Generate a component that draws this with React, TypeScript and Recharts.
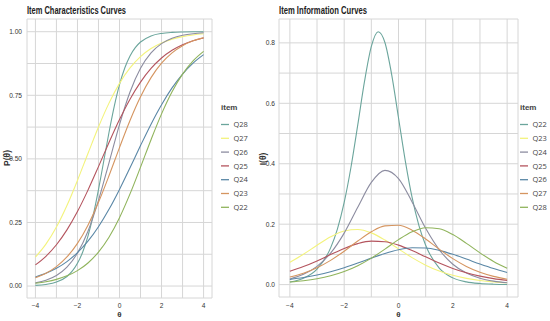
import React from 'react';
import { LineChart, Line, XAxis, YAxis, CartesianGrid, Legend } from 'recharts';

// theta grids
const theta = [-4, -3.5, -3, -2.5, -2, -1.5, -1, -0.5, 0, 0.5, 1, 1.5, 2, 2.5, 3, 3.5, 4];
const thetaFine = [-4, -3.5, -3, -2.5, -2.25, -2, -1.75, -1.5, -1.25, -1, -0.75, -0.5, -0.25, 0, 0.25, 0.5, 0.75, 1, 1.5, 2, 2.5, 3, 3.5, 4];

// Item characteristic curves (left panel)
const iccQ28 = [0.0025, 0.0063, 0.0155, 0.0377, 0.0583, 0.0892, 0.1339, 0.1964, 0.2786, 0.379, 0.4909, 0.6037, 0.7065, 0.7918, 0.8573, 0.9047, 0.9375, 0.9595, 0.9834, 0.9933, 0.9973, 0.9989, 0.9996, 0.9998];
const iccQ27 = [0.1138, 0.1646, 0.232, 0.3166, 0.4153, 0.5214, 0.6255, 0.7192, 0.797, 0.8576, 0.9023, 0.934, 0.956, 0.9708, 0.9808, 0.9874, 0.9917];
const iccQ26 = [0.0125, 0.023, 0.0416, 0.0744, 0.1294, 0.2156, 0.3371, 0.4846, 0.635, 0.7629, 0.8561, 0.9167, 0.9532, 0.9741, 0.9858, 0.9923, 0.9958];
const iccQ25 = [0.0831, 0.117, 0.1623, 0.2207, 0.2928, 0.3772, 0.4696, 0.5642, 0.6544, 0.7347, 0.8019, 0.8555, 0.8965, 0.9268, 0.9487, 0.9644, 0.9754];
const iccQ24 = [0.0359, 0.0502, 0.0698, 0.0962, 0.1313, 0.1765, 0.2333, 0.3016, 0.3799, 0.4651, 0.5523, 0.6365, 0.713, 0.779, 0.8334, 0.8765, 0.9097];
const iccQ23 = [0.0329, 0.0504, 0.0764, 0.1144, 0.1677, 0.2392, 0.3292, 0.4336, 0.5444, 0.6509, 0.7442, 0.8195, 0.8763, 0.9171, 0.9452, 0.9642, 0.9768];
const iccQ22 = [0.0112, 0.0172, 0.0263, 0.0401, 0.0606, 0.0907, 0.1335, 0.1922, 0.2688, 0.3623, 0.4674, 0.5755, 0.6769, 0.7639, 0.8333, 0.8854, 0.9227];

// Item information curves (right panel)
const infoQ22 = [0.0084, 0.021, 0.0511, 0.1215, 0.1839, 0.2721, 0.3884, 0.5285, 0.6732, 0.7882, 0.837, 0.8012, 0.6944, 0.5521, 0.4097, 0.2887, 0.1962, 0.1301, 0.0547, 0.0223, 0.009, 0.0036, 0.0014, 0.0006];
const infoQ23 = [0.0737, 0.1005, 0.1302, 0.1582, 0.1775, 0.1824, 0.1712, 0.1476, 0.1183, 0.0893, 0.0644, 0.0451, 0.0307, 0.0207, 0.0138, 0.0091, 0.006];
const infoQ24 = [0.0187, 0.0339, 0.0604, 0.1041, 0.1704, 0.2559, 0.3381, 0.3779, 0.3507, 0.2737, 0.1864, 0.1155, 0.0675, 0.0381, 0.0211, 0.0116, 0.0063];
const infoQ25 = [0.044, 0.0597, 0.0785, 0.0993, 0.1196, 0.1357, 0.1439, 0.142, 0.1306, 0.1126, 0.0918, 0.0714, 0.0536, 0.0392, 0.0281, 0.0198, 0.0139];
const infoQ26 = [0.017, 0.0234, 0.0318, 0.0426, 0.0559, 0.0712, 0.0876, 0.1032, 0.1154, 0.1219, 0.1212, 0.1134, 0.1003, 0.0844, 0.068, 0.053, 0.0403];
const infoQ27 = [0.0252, 0.0379, 0.0559, 0.0803, 0.1106, 0.1441, 0.1749, 0.1945, 0.1965, 0.18, 0.1508, 0.1172, 0.0859, 0.0602, 0.041, 0.0273, 0.018];
const infoQ28 = [0.0084, 0.0128, 0.0194, 0.0291, 0.0431, 0.0624, 0.0876, 0.1175, 0.1488, 0.1749, 0.1884, 0.1849, 0.1655, 0.1365, 0.1051, 0.0768, 0.054];

const colors = ['#6ba59c', '#f3f37c', '#8c8ca0', '#b4545e', '#5a87a6', '#d59560', '#90b45c'];
const leftNames = ['Q28', 'Q27', 'Q26', 'Q25', 'Q24', 'Q23', 'Q22'];
const rightNames = ['Q22', 'Q23', 'Q24', 'Q25', 'Q26', 'Q27', 'Q28'];
const leftValues = [iccQ28, iccQ27, iccQ26, iccQ25, iccQ24, iccQ23, iccQ22];
const rightValues = [infoQ22, infoQ23, infoQ24, infoQ25, infoQ26, infoQ27, infoQ28];

const xTicks = [-4, -3, -2, -1, 0, 1, 2, 3, 4];
const leftYTicks = [0, 0.125, 0.25, 0.375, 0.5, 0.625, 0.75, 0.875, 1];
const rightYTicks = [0, 0.1, 0.2, 0.3, 0.4, 0.5, 0.6, 0.7, 0.8];

const toPoints = (xs: number[], ys: number[]) => ys.map((v, i) => ({ theta: xs[i], value: v }));
const thetaFor = (ys: number[]) => (ys.length === thetaFine.length ? thetaFine : theta);

const narrow = "'Liberation Sans Narrow', 'Liberation Sans', Arial, sans-serif";
const tickStyle = { fontSize: 6.6, fill: '#333', fontFamily: narrow };

const fmtX = (v: number) => (v % 2 === 0 ? (v < 0 ? '\u2212' + Math.abs(v) : String(v)) : '');
const fmtLeftY = (v: number) => (Math.round(v * 1000) % 250 === 0 ? v.toFixed(2) : '');
const fmtRightY = (v: number) => (Math.round(v * 10) % 2 === 0 ? v.toFixed(1) : '');

const makeLegend = (names: string[]) => () => (
  <svg width={40} height={115} style={{ overflow: 'visible', display: 'block' }}>
    <text x={1} y={10} fontSize={8} fontWeight="bold" fill="#444" fontFamily={narrow}>item</text>
    {names.map((n, i) => (
      <g key={n}>
        <line x1={1} x2={9} y1={24.5 + i * 13.8} y2={24.5 + i * 13.8} stroke={colors[i]} strokeWidth={1.3} />
        <text x={13.5} y={24.5 + i * 13.8} dy="0.35em" fontSize={7.5} fill="#444" fontFamily="'Open Sans', 'Noto Sans', sans-serif">{n}</text>
      </g>
    ))}
  </svg>
);

export default function App() {
  return (
    <div style={{ position: 'absolute', left: 0, top: 0, width: 550, height: 321, background: '#fff', overflow: 'hidden' }}>
      <div style={{ position: 'absolute', left: 0, top: 0 }}>
        <LineChart width={270} height={321} margin={{ top: 19, right: 3, bottom: 0, left: 0 }}>
          <CartesianGrid stroke="#d6d6d6" strokeWidth={1} />
          <XAxis dataKey="theta" type="number" domain={[-4.4, 4.4]} ticks={xTicks} tickFormatter={fmtX}
            axisLine={false} tickLine={false} tickSize={0} tickMargin={5} height={23} tick={tickStyle} interval={0} allowDataOverflow />
          <YAxis type="number" domain={[-0.047, 1.05]} ticks={leftYTicks} tickFormatter={fmtLeftY}
            axisLine={false} tickLine={false} tickSize={0} tickMargin={5} width={27} tick={tickStyle} interval={0} allowDataOverflow />
          <Legend layout="vertical" align="right" verticalAlign="top" width={55}
            wrapperStyle={{ left: 220, top: 100, width: 55 }} content={makeLegend(leftNames)} />
          {leftValues.map((ys, i) => (
            <Line key={leftNames[i]} name={leftNames[i]} data={toPoints(thetaFor(ys), ys)} dataKey="value"
              type="monotone" stroke={colors[i]} strokeWidth={1.1} dot={false} activeDot={false} isAnimationActive={false} />
          ))}
        </LineChart>
      </div>
      <div style={{ position: 'absolute', left: 250, top: 0 }}>
        <LineChart width={300} height={321} margin={{ top: 19, right: 2, bottom: 0, left: 0 }}>
          <CartesianGrid stroke="#d6d6d6" strokeWidth={1} />
          <XAxis dataKey="theta" type="number" domain={[-4.4, 4.4]} ticks={xTicks} tickFormatter={fmtX}
            axisLine={false} tickLine={false} tickSize={0} tickMargin={6} height={24} tick={tickStyle} interval={0} allowDataOverflow />
          <YAxis type="number" domain={[-0.041, 0.879]} ticks={rightYTicks} tickFormatter={fmtRightY}
            axisLine={false} tickLine={false} tickSize={0} tickMargin={4} width={29} tick={tickStyle} interval={0} allowDataOverflow />
          <Legend layout="vertical" align="right" verticalAlign="top" width={30}
            wrapperStyle={{ left: 269, top: 100, width: 30 }} content={makeLegend(rightNames)} />
          {rightValues.map((ys, i) => (
            <Line key={rightNames[i]} name={rightNames[i]} data={toPoints(thetaFor(ys), ys)} dataKey="value"
              type="monotone" stroke={colors[i]} strokeWidth={1.1} dot={false} activeDot={false} isAnimationActive={false} />
          ))}
        </LineChart>
      </div>
      <svg width={550} height={321} style={{ position: 'absolute', left: 0, top: 0, pointerEvents: 'none' }}>
        <text x={27} y={14} fontSize={11} fontWeight="bold" fill="#222" fontFamily={narrow} textLength={99} lengthAdjust="spacingAndGlyphs">Item Characteristics Curves</text>
        <text x={279} y={14} fontSize={11} fontWeight="bold" fill="#222" fontFamily={narrow} textLength={88} lengthAdjust="spacingAndGlyphs">Item Information Curves</text>
        <text transform="translate(10,158) rotate(-90)" textAnchor="middle" fontSize={8.5} fontWeight="bold" fill="#333" fontFamily={narrow}>P(θ)</text>
        <text transform="translate(266,159) rotate(-90)" textAnchor="middle" fontSize={8.5} fontWeight="bold" fill="#333" fontFamily={narrow}>I(θ)</text>
        <text x={119.5} y={317} textAnchor="middle" fontSize={8} fontWeight="bold" fill="#333" fontFamily={narrow}>θ</text>
        <text x={398.5} y={317} textAnchor="middle" fontSize={8} fontWeight="bold" fill="#333" fontFamily={narrow}>θ</text>
      </svg>
    </div>
  );
}
